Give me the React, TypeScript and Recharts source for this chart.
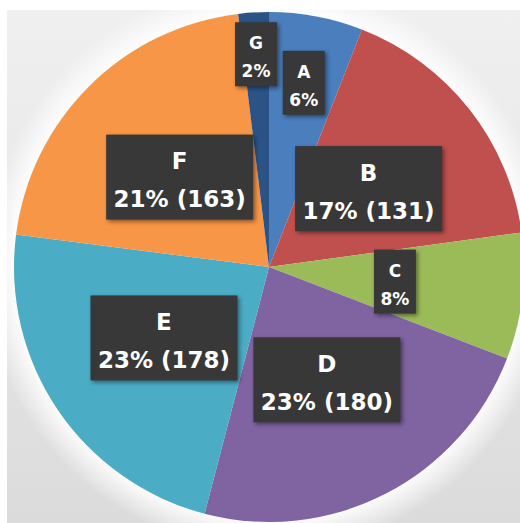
import React from "react";
import { PieChart, Pie, Cell } from "recharts";

const categories = ["A", "B", "C", "D", "E", "F", "G"];
const values = [46, 131, 62, 180, 178, 163, 15];
const colors = ["#4a7ebd", "#c0504d", "#9bbb59", "#8064a2", "#4bacc6", "#f79646", "#2b5386"];

const data = categories.map((name, i) => ({ name, value: values[i] }));

const RAD = Math.PI / 180;
const FONT = "'DejaVu Sans', sans-serif";

const renderLabel = (props: any) => {
  const { cx, cy, midAngle, outerRadius, percent, name, value } = props;
  const small = percent < 0.1;
  const factor = percent < 0.03 ? 0.836 : percent < 0.07 ? 0.735 : 0.497;
  const r = outerRadius * factor;
  const x = cx + r * Math.cos(midAngle * RAD);
  const y = cy - r * Math.sin(midAngle * RAD);
  const pct = Math.round(percent * 100) + "%";
  if (small) {
    const w = 42;
    const h = 64;
    return (
      <g>
        <rect x={x - w / 2} y={y - h / 2} width={w} height={h} fill="#383838"
          style={{ filter: "drop-shadow(2px 2px 2px rgba(0,0,0,0.45))" }} />
        <text x={x} y={y - 11} textAnchor="middle" dominantBaseline="central" fill="#ffffff"
          fontFamily={FONT} fontWeight={700} fontSize={17}>{name}</text>
        <text x={x} y={y + 17} textAnchor="middle" dominantBaseline="central" fill="#ffffff"
          fontFamily={FONT} fontWeight={700} fontSize={17}>{pct}</text>
      </g>
    );
  }
  const w = 147;
  const h = 85;
  return (
    <g>
      <rect x={x - w / 2} y={y - h / 2} width={w} height={h} fill="#383838"
        style={{ filter: "drop-shadow(2px 2px 2px rgba(0,0,0,0.45))" }} />
      <text x={x} y={y - 16} textAnchor="middle" dominantBaseline="central" fill="#ffffff"
        fontFamily={FONT} fontWeight={700} fontSize={23}>{name}</text>
      <text x={x} y={y + 22} textAnchor="middle" dominantBaseline="central" fill="#ffffff"
        fontFamily={FONT} fontWeight={700} fontSize={23}>{`${pct} (${value})`}</text>
    </g>
  );
};

export default function App() {
  return (
    <div style={{ position: "absolute", left: 0, top: 0, width: 520, height: 523, background: "#ffffff", overflow: "hidden" }}>
      <div
        style={{
          position: "absolute",
          left: 7,
          top: 10,
          right: 0,
          bottom: 0,
          background:
            "radial-gradient(circle at 262px 257px, rgba(255,255,255,0.95) 253px, rgba(255,255,255,0) 285px), linear-gradient(to bottom, #f0f0f0, #dbdbdb)",
        }}
      />
      <div style={{ position: "absolute", left: 0, top: 0 }}>
        <PieChart width={520} height={523} margin={{ top: 0, right: 0, bottom: 0, left: 0 }}>
          <Pie
            data={data}
            dataKey="value"
            nameKey="name"
            cx={269}
            cy={267}
            outerRadius={255}
            startAngle={90}
            endAngle={-270}
            stroke="none"
            label={renderLabel}
            labelLine={false}
            isAnimationActive={false}
          >
            {data.map((d, i) => (
              <Cell key={d.name} fill={colors[i]} />
            ))}
          </Pie>
        </PieChart>
      </div>
    </div>
  );
}
